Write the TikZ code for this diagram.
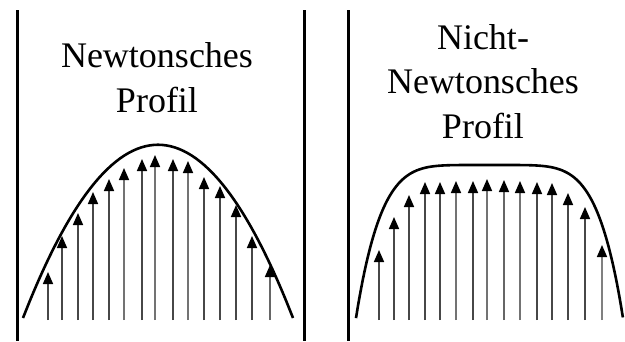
\documentclass[tikz,border=0pt]{standalone}
\usepackage{fontspec}
\setmainfont{Liberation Serif}
\usepackage{tikz}
\usetikzlibrary{arrows.meta}

\begin{document}
\begin{tikzpicture}[
  x=1pt,y=-1pt,
  wall/.style={line width=3pt},
  profil/.style={line width=2.6pt},
  vel/.style={line width=1.6pt,draw=black!72,
              -{Triangle[width=10pt,length=12pt,color=black]}},
  lbl/.style={align=center,anchor=base,inner sep=0pt,
              font=\fontsize{36}{44.5}\selectfont}
]
\useasboundingbox (0,0) rectangle (625,341);
% channel walls
\draw[wall] (17,10) -- (17,341);
\draw[wall] (304,10) -- (304,341);
\draw[wall] (348,10) -- (348,341);
% labels
\node[lbl] (newt) at (157,112) {Newtonsches\\Profil};
\node[lbl] (nonnewt) at (483,138) {Nicht-\\Newtonsches\\Profil};
% velocity arrows
\foreach \x/\y/\c in {48/272/72,62/236/72,78/213/72,93/192/72,109/179/72,
    124/168/55,142/159/72,155/155/55,173/159/72,188/161/55,204/177/72,
    220/186/72,236/205/72,252/236/72,270/265/60}
  \draw[vel,draw=black!\c] (\x,320) -- (\x,\y);
\foreach \x/\y/\c in {379/250/72,394/217/72,409/195/72,425/182/72,440/182/72,
    456/181/55,473/181/72,487/179/55,504/180/60,520/181/55,537/182/72,
    552/183/72,568/193/72,585/207/72,602/245/50}
  \draw[vel,draw=black!\c] (\x,320) -- (\x,\y);
% profiles
\draw[profil] (23,318) .. controls (113,87) and (203,87) .. (293,318);
\draw[profil,domain=-1:1,samples=120,smooth]
  plot ({489.5+133.5*\x},{165+153*pow(abs(\x)+0.0001,5.5)});
\end{tikzpicture}
\end{document}
